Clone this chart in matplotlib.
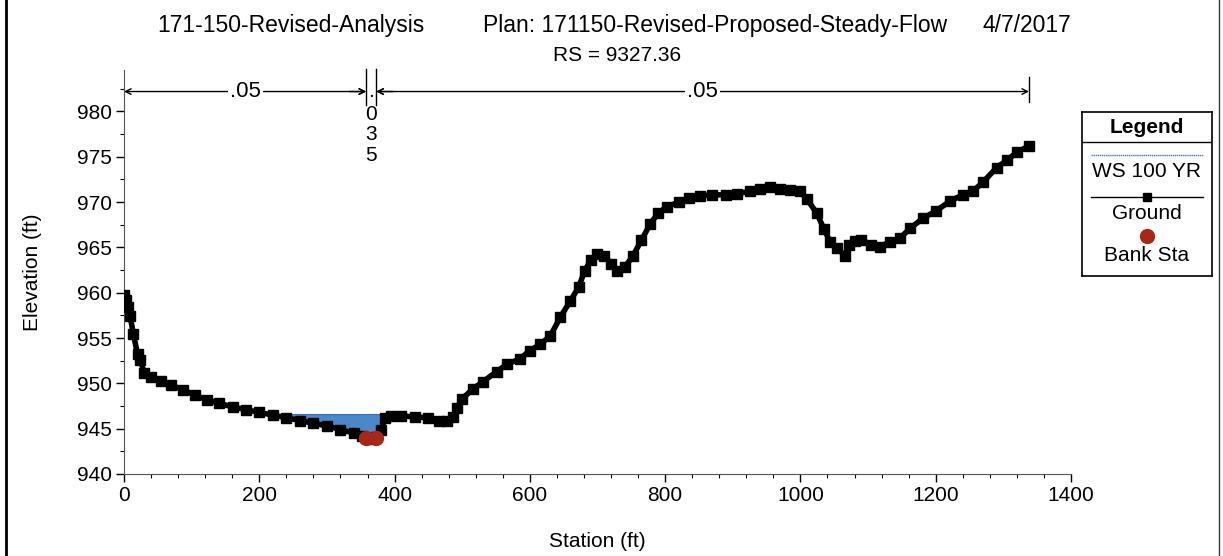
import numpy as np
import matplotlib
matplotlib.use("Agg")
import matplotlib.pyplot as plt
from matplotlib.lines import Line2D
from matplotlib.ticker import MultipleLocator

plt.rcParams['font.family'] = ['Liberation Sans', 'DejaVu Sans']

# ground profile (station ft, elevation ft)
station = [0, 3, 6, 9, 14, 20, 24, 30, 40, 55, 70, 87, 105, 122, 140, 161, 180, 200,
           220, 240, 260, 280, 300, 320, 340, 352, 358, 365, 373, 380, 386, 395, 410,
           430, 450, 465, 477, 486, 492, 500, 516, 531, 551, 566, 585, 600, 615, 630,
           645, 660, 672, 681, 690, 699, 710, 720, 729, 740, 752, 765, 778, 790, 803,
           820, 835, 852, 870, 890, 906, 925, 940, 955, 970, 985, 999, 1010, 1024,
           1035, 1044, 1054, 1066, 1072, 1080, 1090, 1105, 1118, 1132, 1147, 1162,
           1181, 1200, 1221, 1240, 1255, 1270, 1290, 1305, 1320, 1338]
ground = [959.7, 959.2, 958.4, 957.4, 955.4, 953.2, 952.6, 951.1, 950.7, 950.3, 949.8,
          949.3, 948.7, 948.2, 947.8, 947.4, 947.1, 946.8, 946.5, 946.2, 945.9, 945.6,
          945.3, 944.9, 944.5, 944.2, 944.0, 943.9, 944.1, 944.8, 946.2, 946.4, 946.4,
          946.3, 946.2, 945.9, 945.8, 946.3, 947.3, 948.3, 949.4, 950.2, 951.3, 952.1,
          952.7, 953.6, 954.3, 955.2, 957.3, 959.1, 960.6, 962.4, 963.6, 964.3, 964.1,
          963.2, 962.4, 962.8, 964.0, 965.8, 967.6, 968.8, 969.5, 970.0, 970.4, 970.7,
          970.8, 970.8, 970.9, 971.2, 971.5, 971.7, 971.5, 971.3, 971.2, 970.3, 968.8,
          967.0, 965.6, 964.9, 964.1, 965.3, 965.7, 965.8, 965.3, 965.1, 965.6, 966.0,
          967.1, 968.2, 969.0, 970.1, 970.8, 971.2, 972.2, 973.8, 974.6, 975.5, 976.2]

ws_elev = 946.65
bank_sta = [358, 373]
bank_elev = [944.0, 944.0]

# manning's n regions
n_edges = [0, 358, 373, 1338]
n_labels = ['.05', '.035', '.05']

sta = np.array(station, dtype=float)
gr = np.array(ground)

fig = plt.figure(figsize=(12.23, 5.56), dpi=100)
ax = fig.add_axes([0.1014, 0.1475, 0.7743, 0.727])

# water surface
mask = (gr < ws_elev) & (sta < 392)
ax.fill_between(sta, gr, ws_elev, where=mask, interpolate=True,
                color='#4a88c9', linewidth=0, zorder=1)
ax.plot([200, 390], [ws_elev, ws_elev], color='#3a6fb0', lw=0.8, zorder=2)

ax.plot(sta, gr, color='black', lw=4, marker='s', ms=6.5, zorder=3,
        solid_joinstyle='round', solid_capstyle='round')
ax.plot(bank_sta, bank_elev, 'o', color='#a82818', ms=10, zorder=4)

ax.set_xlim(0, 1400)
ax.set_ylim(940, 984.6)
ax.set_xticks(np.arange(0, 1401, 200))
ax.set_yticks(np.arange(940, 981, 5))
ax.xaxis.set_minor_locator(MultipleLocator(40))
ax.yaxis.set_minor_locator(MultipleLocator(2.5))
ax.tick_params(which='major', length=6, width=1, labelsize=15, direction='out', pad=3)
ax.tick_params(which='minor', length=3, width=0.8, direction='out')
for s in ['top', 'right']:
    ax.spines[s].set_visible(False)
ax.spines['left'].set_color('#555555')
ax.spines['bottom'].set_color('#555555')

ax.set_xlabel('Station (ft)', fontsize=15, labelpad=19)
ax.set_ylabel('Elevation (ft)', fontsize=15, labelpad=25)

# n-value annotations
ya = 982.2
for x in n_edges[1:]:
    top = 984.7 if x != n_edges[-1] else 983.8
    bot = 980.7 if x != n_edges[-1] else 981.0
    ax.plot([x, x], [bot, top], color='black', lw=1, clip_on=False)
arrow = dict(arrowstyle='->', color='black', lw=1, shrinkA=0, shrinkB=0)
for a, b, lab in [(n_edges[0], n_edges[1], n_labels[0]), (n_edges[2], n_edges[3], n_labels[2])]:
    mid = (a + b) / 2
    ax.annotate('', xy=(a, ya), xytext=(mid, ya), arrowprops=arrow, annotation_clip=False)
    ax.annotate('', xy=(b, ya), xytext=(mid, ya), arrowprops=arrow, annotation_clip=False)
    ax.text(mid, ya, lab, ha='center', va='center', fontsize=16,
            bbox=dict(facecolor='white', edgecolor='none', pad=1.5), zorder=5)
ax.annotate('', xy=(n_edges[1], ya), xytext=(n_edges[1] - 25, ya), arrowprops=arrow, annotation_clip=False)
ax.annotate('', xy=(n_edges[2], ya), xytext=(n_edges[2] + 25, ya), arrowprops=arrow, annotation_clip=False)
mid_n = (n_edges[1] + n_edges[2]) / 2
for ch, yy in zip(n_labels[1], [982.2, 979.7, 977.5, 975.1]):
    ax.text(mid_n, yy, ch, ha='center', va='center', fontsize=15, clip_on=False)

# titles
fig.text(291 / 1223, 0.955, '171-150-Revised-Analysis', ha='center', va='center', fontsize=16.5)
fig.text(715 / 1223, 0.955, 'Plan: 171150-Revised-Proposed-Steady-Flow', ha='center', va='center', fontsize=16.5)
fig.text(1027 / 1223, 0.955, '4/7/2017', ha='center', va='center', fontsize=16.5)
fig.text(617 / 1223, 0.901, 'RS = 9327.36', ha='center', va='center', fontsize=15)

# legend box
lax = fig.add_axes([1082 / 1223, 1 - 276 / 556, 130 / 1223, 164 / 556])
lax.set_xlim(0, 1)
lax.set_ylim(0, 1)
lax.set_xticks([])
lax.set_yticks([])
for s in lax.spines.values():
    s.set_linewidth(1.2)
lax.text(0.5, 0.905, 'Legend', ha='center', va='center', fontsize=15, fontweight='bold')
lax.axhline(0.817, color='black', lw=1)
lax.plot([0.07, 0.93], [0.738, 0.738], color='#5a6fb0', lw=1, ls=(0, (1, 0.5)))
lax.text(0.5, 0.64, 'WS 100 YR', ha='center', va='center', fontsize=15)
lax.plot([0.07, 0.93], [0.482, 0.482], color='black', lw=1)
lax.plot([0.5], [0.482], 's', color='black', ms=6)
lax.text(0.5, 0.38, 'Ground', ha='center', va='center', fontsize=15)
lax.plot([0.5], [0.244], 'o', color='#a82818', ms=10)
lax.text(0.5, 0.125, 'Bank Sta', ha='center', va='center', fontsize=15)

# page edges
fig.add_artist(Line2D([6 / 1223, 6 / 1223], [0, 1], color='black', lw=2))
fig.add_artist(Line2D([1219 / 1223, 1219 / 1223], [0, 1], color='#333333', lw=1))

fig.savefig('out.png', dpi=100)
